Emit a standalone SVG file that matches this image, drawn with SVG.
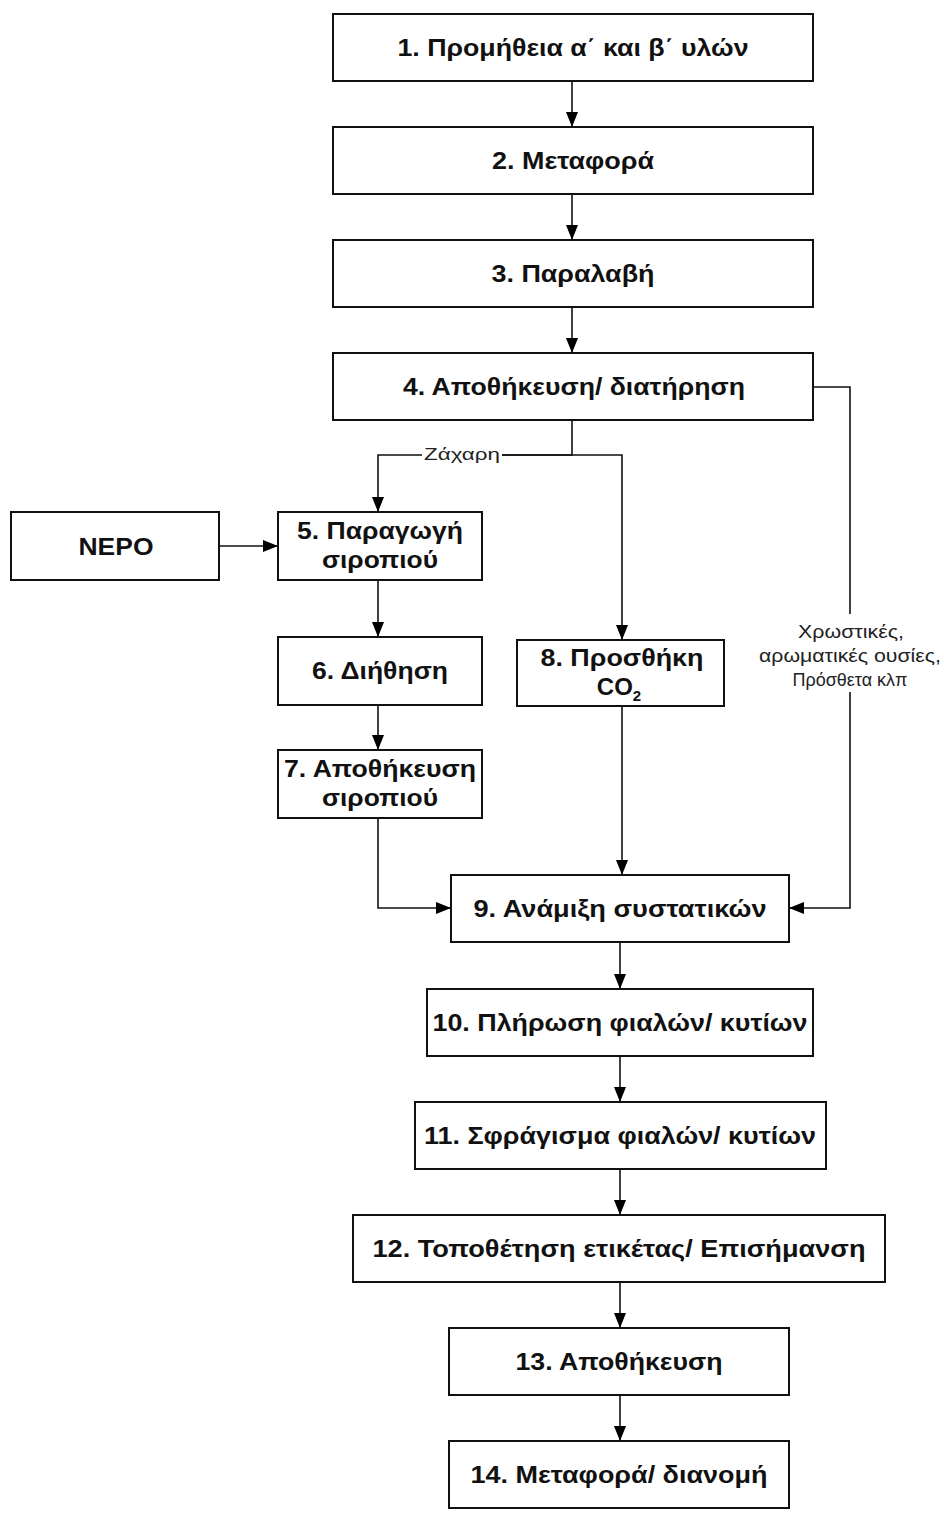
<svg xmlns="http://www.w3.org/2000/svg" width="944" height="1514" viewBox="0 0 944 1514">
<defs>
<marker id="ah" viewBox="0 0 15 12" refX="15" refY="6" markerWidth="15" markerHeight="12" markerUnits="userSpaceOnUse" orient="auto">
<path d="M0,0 L15,6 L0,12 Z" fill="#000"/>
</marker>
<style>
rect.b{fill:#fff;stroke:#111;stroke-width:2}
text.t{font-family:"Liberation Sans",Arial,sans-serif;font-weight:bold;font-size:24px;text-anchor:middle;fill:#111}
text.l{font-family:"Liberation Sans",Arial,sans-serif;font-size:17px;text-anchor:middle;fill:#222}
text.r{font-family:"Liberation Sans",Arial,sans-serif;font-size:18px;text-anchor:middle;fill:#222}
.c path{fill:none;stroke:#111;stroke-width:1.6}
</style>
</defs>
<rect width="944" height="1514" fill="#fff"/>
<g class="c" id="connectors">
<path d="M572,81 V127" marker-end="url(#ah)"/>
<path d="M572,194 V240" marker-end="url(#ah)"/>
<path d="M572,307 V353" marker-end="url(#ah)"/>
<path d="M572,420 V455 H502"/>
<path d="M422,455 H378 V512" marker-end="url(#ah)"/>
<path d="M502,455 H622 V640" marker-end="url(#ah)"/>
<path d="M219,546 H278" marker-end="url(#ah)"/>
<path d="M378,580 V637" marker-end="url(#ah)"/>
<path d="M378,705 V750" marker-end="url(#ah)"/>
<path d="M378,818 V908 H451" marker-end="url(#ah)"/>
<path d="M622,706 V875" marker-end="url(#ah)"/>
<path d="M813,387 H850 V614"/>
<path d="M850,692 V908 H789" marker-end="url(#ah)"/>
<path d="M620,942 V989" marker-end="url(#ah)"/>
<path d="M620,1056 V1102" marker-end="url(#ah)"/>
<path d="M620,1169 V1215" marker-end="url(#ah)"/>
<path d="M620,1282 V1328" marker-end="url(#ah)"/>
<path d="M620,1395 V1441" marker-end="url(#ah)"/>
<text class="l" x="462" y="460" textLength="76" lengthAdjust="spacingAndGlyphs">Ζάχαρη</text>
<text class="r" x="851" y="638" textLength="106" lengthAdjust="spacingAndGlyphs">Χρωστικές,</text>
<text class="r" x="850" y="662" textLength="182" lengthAdjust="spacingAndGlyphs">αρωματικές ουσίες,</text>
<text class="r" x="850" y="686">Πρόσθετα κλπ</text>
</g>
<g id="n1"><rect class="b" x="333" y="14" width="480" height="67"/><text class="t" x="573" y="56" textLength="351" lengthAdjust="spacingAndGlyphs">1. Προμήθεια α΄ και β΄ υλών</text></g>
<g id="n2"><rect class="b" x="333" y="127" width="480" height="67"/><text class="t" x="573" y="169" textLength="162" lengthAdjust="spacingAndGlyphs">2. Μεταφορά</text></g>
<g id="n3"><rect class="b" x="333" y="240" width="480" height="67"/><text class="t" x="573" y="282" textLength="163" lengthAdjust="spacingAndGlyphs">3. Παραλαβή</text></g>
<g id="n4"><rect class="b" x="333" y="353" width="480" height="67"/><text class="t" x="574" y="395" textLength="342" lengthAdjust="spacingAndGlyphs">4. Αποθήκευση/ διατήρηση</text></g>
<g id="nero"><rect class="b" x="11" y="512" width="208" height="68"/><text class="t" x="116" y="555" textLength="75" lengthAdjust="spacingAndGlyphs">ΝΕΡΟ</text></g>
<g id="n5"><rect class="b" x="278" y="512" width="204" height="68"/><text class="t" x="380" y="539" textLength="166" lengthAdjust="spacingAndGlyphs">5. Παραγωγή</text><text class="t" x="380" y="568" textLength="116" lengthAdjust="spacingAndGlyphs">σιροπιού</text></g>
<g id="n6"><rect class="b" x="278" y="637" width="204" height="68"/><text class="t" x="380" y="679" textLength="136" lengthAdjust="spacingAndGlyphs">6. Διήθηση</text></g>
<g id="n7"><rect class="b" x="278" y="750" width="204" height="68"/><text class="t" x="380" y="777" textLength="192" lengthAdjust="spacingAndGlyphs">7. Αποθήκευση</text><text class="t" x="380" y="806" textLength="116" lengthAdjust="spacingAndGlyphs">σιροπιού</text></g>
<g id="n8"><rect class="b" x="517" y="640" width="207" height="66"/><text class="t" x="622" y="666" textLength="163" lengthAdjust="spacingAndGlyphs">8. Προσθήκη</text><text class="t" x="619" y="695">CO<tspan font-size="15" dy="6">2</tspan></text></g>
<g id="n9"><rect class="b" x="451" y="875" width="338" height="67"/><text class="t" x="620" y="917" textLength="293" lengthAdjust="spacingAndGlyphs">9. Ανάμιξη συστατικών</text></g>
<g id="n10"><rect class="b" x="427" y="989" width="386" height="67"/><text class="t" x="620" y="1031" textLength="375" lengthAdjust="spacingAndGlyphs">10. Πλήρωση φιαλών/ κυτίων</text></g>
<g id="n11"><rect class="b" x="415" y="1102" width="411" height="67"/><text class="t" x="620" y="1144" textLength="392" lengthAdjust="spacingAndGlyphs">11. Σφράγισμα φιαλών/ κυτίων</text></g>
<g id="n12"><rect class="b" x="353" y="1215" width="532" height="67"/><text class="t" x="619" y="1257" textLength="493" lengthAdjust="spacingAndGlyphs">12. Τοποθέτηση ετικέτας/ Επισήμανση</text></g>
<g id="n13"><rect class="b" x="449" y="1328" width="340" height="67"/><text class="t" x="619" y="1370" textLength="207" lengthAdjust="spacingAndGlyphs">13. Αποθήκευση</text></g>
<g id="n14"><rect class="b" x="449" y="1441" width="340" height="67"/><text class="t" x="619" y="1483" textLength="297" lengthAdjust="spacingAndGlyphs">14. Μεταφορά/ διανομή</text></g>
</svg>
